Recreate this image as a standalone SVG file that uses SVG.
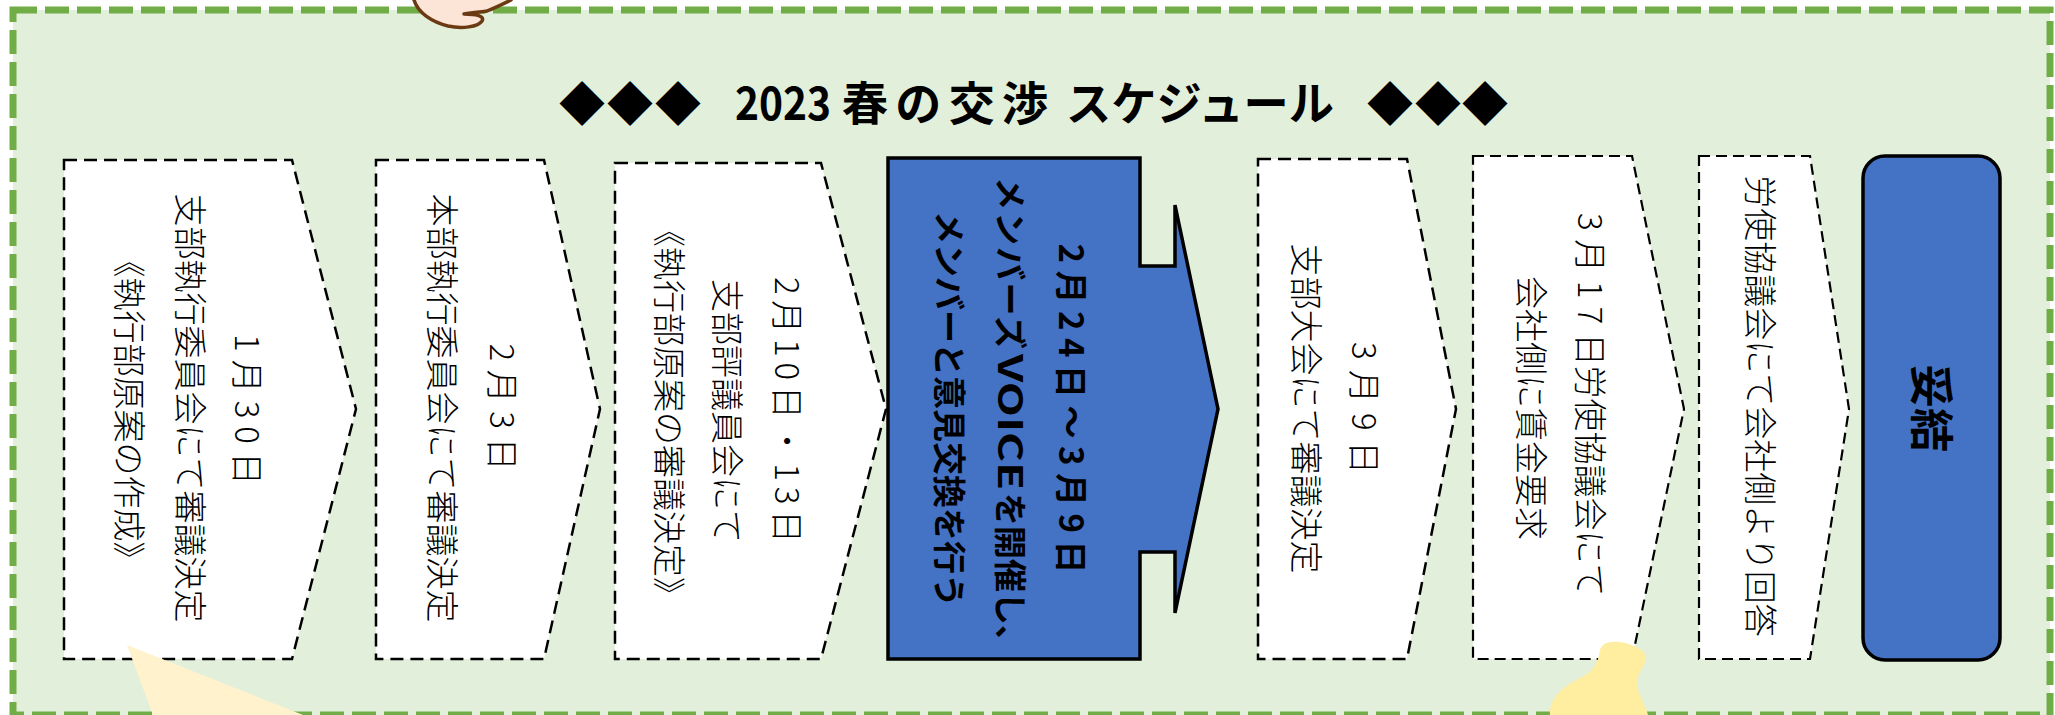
<svg xmlns="http://www.w3.org/2000/svg" width="2055" height="715" viewBox="0 0 2055 715">
  <style>
    .frame { fill: #E2EFDA; stroke: #70AD47; stroke-width: 7; stroke-dasharray: 24 8; }
    .step { fill: #FFFFFF; stroke: #000000; stroke-width: 2.5; stroke-dasharray: 13 7; stroke-linejoin: miter; }
    .step-fine { stroke-width: 2.2; stroke-dasharray: 11 6; }
    .active { fill: #4472C4; stroke: #000000; stroke-width: 3.5; stroke-linejoin: miter; }
    text { font-family: 'Noto Sans CJK JP', 'Noto Sans', sans-serif; fill: #000000; }
    .lbl { font-size: 33px; font-weight: 300; }
    .strong { font-size: 33px; font-weight: bold; }
    .ttl { font-size: 46px; font-weight: bold; }
  </style>

  <!-- frame panel -->
  <rect class="frame" x="13" y="10" width="2037" height="705"/>

  <!-- heading -->
  <g id="title">
    <text class="ttl" x="582 630 678" y="120" text-anchor="middle">◆◆◆</text>
    <text class="ttl" x="735" y="120" textLength="96" lengthAdjust="spacingAndGlyphs">2023</text>
    <text class="ttl" x="842" y="120" textLength="206" lengthAdjust="spacing">春の交渉</text>
    <text class="ttl" x="1066" y="120" textLength="268" lengthAdjust="spacingAndGlyphs">スケジュール</text>
    <text class="ttl" x="1390 1438 1485" y="120" text-anchor="middle">◆◆◆</text>
  </g>

  <!-- schedule steps (text runs top-to-bottom, rotated 90°) -->
  <g id="step-0130">
    <polygon class="step" points="64,160 292,160 356,409 292,659 64,659"/>
    <text class="lbl" transform="translate(247,0) rotate(90)" x="409.5" y="12.5" text-anchor="middle" textLength="151" lengthAdjust="spacing">1月30日</text>
    <text class="lbl" transform="translate(190,0) rotate(90)" x="408" y="12.5" text-anchor="middle">支部執行委員会にて審議決定</text>
    <text class="lbl" transform="translate(129,0) rotate(90)" x="409.5" y="12.5" text-anchor="middle">《執行部原案の作成》</text>
  </g>

  <g id="step-0203">
    <polygon class="step" points="376,160 544,160 600,409 544,659 376,659"/>
    <text class="lbl" transform="translate(502,0) rotate(90)" x="407" y="12.5" text-anchor="middle" textLength="127" lengthAdjust="spacing">2月3日</text>
    <text class="lbl" transform="translate(442,0) rotate(90)" x="408" y="12.5" text-anchor="middle">本部執行委員会にて審議決定</text>
  </g>

  <g id="step-0210">
    <polygon class="step" points="615,163 821,163 886,409 821,659 615,659"/>
    <text class="lbl" transform="translate(787,0) rotate(90)" x="410" y="12.5" text-anchor="middle" textLength="266" lengthAdjust="spacing">2月10日・13日</text>
    <text class="lbl" transform="translate(727,0) rotate(90)" x="411" y="12.5" text-anchor="middle">支部評議員会にて</text>
    <text class="lbl" transform="translate(669,0) rotate(90)" x="412" y="12.5" text-anchor="middle">《執行部原案の審議決定》</text>
  </g>

  <g id="step-voice">
    <path class="active" d="M888,158 H1140 V266 H1175 V205 L1218,409 L1175,613 V552 H1140 V659 H888 Z"/>
    <text class="strong" transform="translate(1071,0) rotate(90)" x="408.5" y="12.5" text-anchor="middle" textLength="330" lengthAdjust="spacing">2月24日～3月9日</text>
    <text class="strong" transform="translate(1010,0) rotate(90)" y="12.5"><tspan x="177" textLength="172" lengthAdjust="spacing">メンバーズ</tspan><tspan x="354" textLength="136" lengthAdjust="spacingAndGlyphs">VOICE</tspan><tspan x="493">を開催し、</tspan></text>
    <text class="strong" transform="translate(949,0) rotate(90)" x="409" y="12.5" text-anchor="middle">メンバーと意見交換を行う</text>
  </g>

  <g id="step-0309">
    <polygon class="step" points="1258,159 1407,159 1456,409 1407,659 1258,659"/>
    <text class="lbl" transform="translate(1364,0) rotate(90)" x="408" y="12.5" text-anchor="middle" textLength="132" lengthAdjust="spacing">3月9日</text>
    <text class="lbl" transform="translate(1306,0) rotate(90)" x="408.5" y="12.5" text-anchor="middle">支部大会にて審議決定</text>
  </g>

  <g id="step-0317">
    <polygon class="step step-fine" points="1473,156 1632,156 1684,409 1632,659 1473,659"/>
    <text class="lbl" transform="translate(1590,0) rotate(90)" y="12.5"><tspan x="213" textLength="153" lengthAdjust="spacing">3月17日</tspan><tspan x="365.5">労使協議会にて</tspan></text>
    <text class="lbl" transform="translate(1531,0) rotate(90)" x="408" y="12.5" text-anchor="middle">会社側に賃金要求</text>
  </g>

  <g id="step-reply">
    <polygon class="step step-fine" points="1699,156 1810,156 1849,409 1810,659 1699,659"/>
    <text class="lbl" transform="translate(1760,0) rotate(90)" x="406" y="12.5" text-anchor="middle">労使協議会にて会社側より回答</text>
  </g>

  <g id="step-settle">
    <rect class="active" x="1863" y="156" width="137" height="504" rx="22" ry="22"/>
    <text class="strong" transform="translate(1931,0) rotate(90)" x="408" y="16.5" text-anchor="middle" style="font-size:44px">妥結</text>
  </g>

  <g id="connectors"/>

  <!-- illustration fragments along the frame edges -->
  <g id="deco">
    <path d="M414,0 C418,13 432,22 448,26 C462,29 478,27 482,21 C485,16 476,14 464,14 C474,12 483,12 487,11 C497,7 505,3 511,0 Z" fill="#FCE4D6"/>
    <path d="M414,0 C418,13 432,22 448,26 C462,29 478,27 482,21 C485,16 476,14 464,14 C474,12 483,12 487,11 C497,7 505,3 511,0" fill="none" stroke="#6B3A13" stroke-width="3.5" stroke-linecap="round" stroke-linejoin="round"/>
    <polygon points="127,645 303,715 153,715" fill="#FFF2CC"/>
    <path d="M1550,715 C1549,700 1560,688 1580,678 C1592,672 1598,665 1600,650 C1602,642 1612,640 1625,643 C1640,647 1648,652 1645,662 C1642,670 1636,676 1637,685 C1639,697 1646,706 1648,715 Z" fill="#FFEDA0"/>
  </g>
</svg>
